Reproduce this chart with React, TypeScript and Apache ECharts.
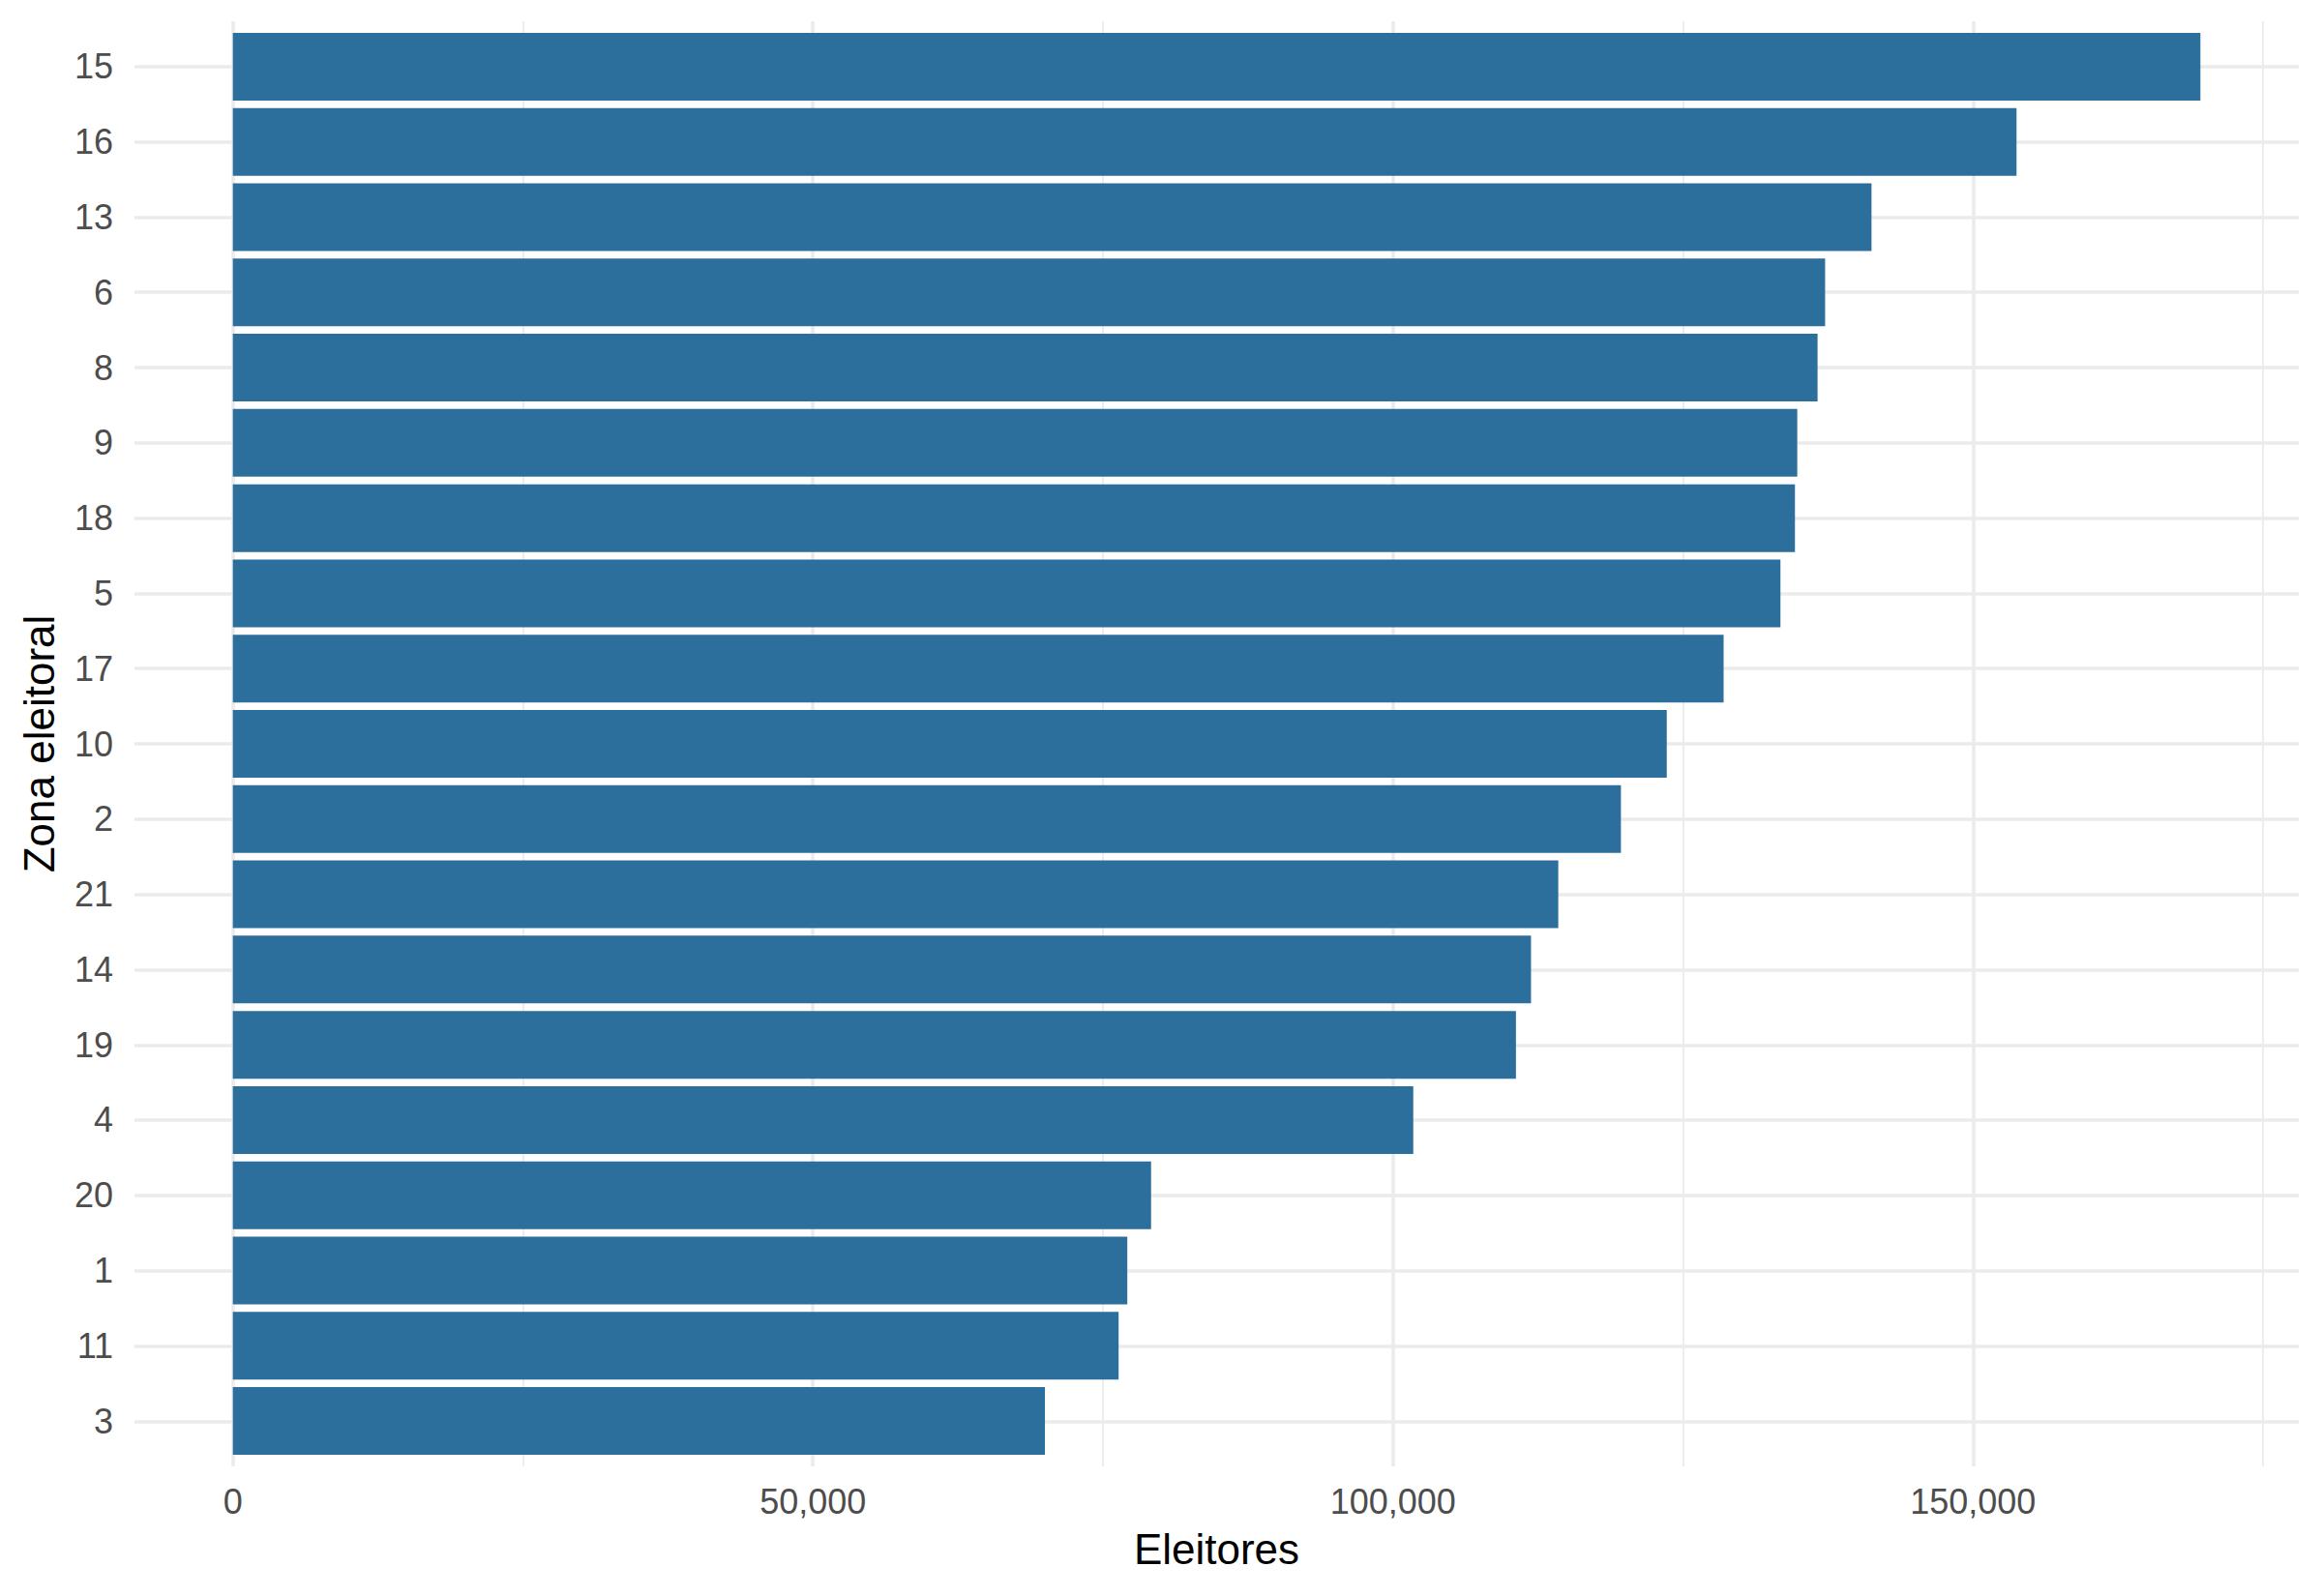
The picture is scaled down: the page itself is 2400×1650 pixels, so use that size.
import { useEffect, useRef } from "react";
import * as echarts from "echarts";

// zona eleitoral, top to bottom as drawn
const zones = ["15", "16", "13", "6", "8", "9", "18", "5", "17", "10", "2", "21", "14", "19", "4", "20", "1", "11", "3"];
const voters = [
  169600, 153750, 141250, 137250, 136600, 134850, 134650, 133400, 128500, 123600,
  119650, 114250, 111900, 110600, 101750, 79150, 77100, 76350, 70000
];

const majorBreaks = [0, 50000, 100000, 150000];
const minorBreaks = [25000, 75000, 125000, 175000];

const FONT = "Arial, 'Liberation Sans', sans-serif";
const GRID_COLOR = "#EBEBEB";
const BAR_COLOR = "#2C6E9C";

function fmt(v: number): string {
  return v.toLocaleString("en-US");
}

export default function App() {
  const ref = useRef<HTMLDivElement | null>(null);

  useEffect(() => {
    if (!ref.current) return;
    const chart = echarts.init(ref.current, null, { renderer: "svg" });

    // ggplot-style 5% expansion on the value axis
    const pad = Math.max(...voters) * 0.05;
    const xMin = -pad;
    const xMax = Math.max(...voters) + pad;

    const gridLines: any[] = [
      ...majorBreaks.map((v) => ({ xAxis: v, lineStyle: { width: 3.6 } })),
      ...minorBreaks.map((v) => ({ xAxis: v, lineStyle: { width: 1.8 } })),
      ...zones.map((_, i) => ({ yAxis: i, lineStyle: { width: 3.6 } }))
    ];

    chart.setOption({
      animation: false,
      backgroundColor: "#ffffff",
      textStyle: { fontFamily: FONT },
      grid: [
        // panel (with discrete 0.6 expansion)
        { left: 139, right: 24, top: 22, bottom: 134 },
        // bars (band edges)
        { left: 139, right: 24, top: 30, bottom: 142 }
      ],
      xAxis: [
        {
          gridIndex: 0,
          type: "value",
          min: xMin,
          max: xMax,
          name: "Eleitores",
          nameLocation: "middle",
          nameGap: 63,
          nameTextStyle: { fontSize: 44, color: "#000000", fontFamily: FONT },
          axisLine: { show: false },
          axisTick: { show: false },
          splitLine: { show: false },
          axisLabel: {
            customValues: majorBreaks,
            formatter: (v: number) => fmt(v),
            fontSize: 36,
            color: "#4D4D4D",
            fontFamily: FONT,
            margin: 18
          }
        },
        {
          gridIndex: 1,
          type: "value",
          min: xMin,
          max: xMax,
          show: false
        }
      ],
      yAxis: [
        {
          gridIndex: 0,
          type: "value",
          min: -0.6,
          max: zones.length - 1 + 0.6,
          inverse: true,
          name: "Zona eleitoral",
          nameLocation: "middle",
          nameRotate: 90,
          nameGap: 77,
          nameTextStyle: { fontSize: 44, color: "#000000", fontFamily: FONT },
          axisLine: { show: false },
          axisTick: { show: false },
          splitLine: { show: false },
          axisLabel: { show: false }
        },
        {
          gridIndex: 1,
          type: "category",
          data: zones,
          inverse: true,
          axisLine: { show: false },
          axisTick: { show: false },
          splitLine: { show: false },
          axisLabel: {
            fontSize: 36,
            color: "#4D4D4D",
            fontFamily: FONT,
            margin: 22
          }
        }
      ],
      series: [
        {
          type: "line",
          xAxisIndex: 0,
          yAxisIndex: 0,
          data: [],
          z: 1,
          silent: true,
          markLine: {
            z: 1,
            silent: true,
            symbol: ["none", "none"],
            label: { show: false },
            lineStyle: { color: GRID_COLOR, type: "solid" },
            data: gridLines
          }
        },
        {
          type: "bar",
          xAxisIndex: 1,
          yAxisIndex: 1,
          z: 3,
          data: voters,
          barCategoryGap: "10%",
          itemStyle: { color: BAR_COLOR }
        }
      ]
    });

    return () => {
      chart.dispose();
    };
  }, []);

  return (
    <div
      ref={ref}
      style={{ position: "absolute", left: 0, top: 0, width: 2400, height: 1650, background: "#ffffff" }}
    />
  );
}
